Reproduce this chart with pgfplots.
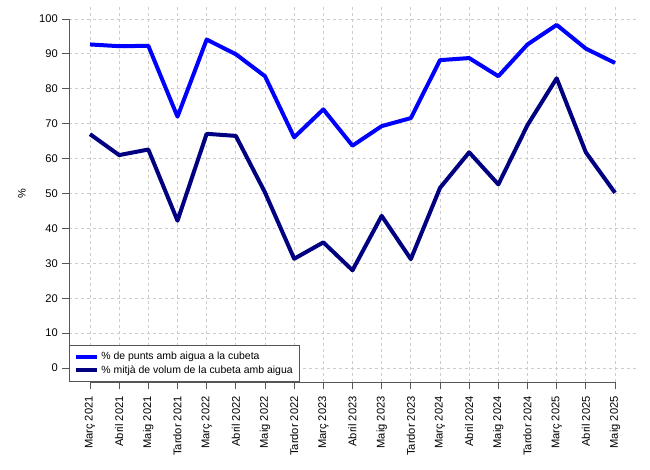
\documentclass[border=0pt]{standalone}
\usepackage{pgfplots}
\pgfplotsset{compat=1.18}
\usepackage{fontspec}
\setmainfont{Liberation Sans}
\definecolor{axisgray}{HTML}{555555}
\definecolor{gridgray}{HTML}{CCCCCC}
\definecolor{navyline}{HTML}{000080}
\definecolor{blueline}{HTML}{0000FF}
\begin{document}
\begin{tikzpicture}
\path[use as bounding box] (0,0) rectangle (650bp,470bp);
\begin{axis}[
  at={(69bp,88bp)}, anchor=south west,
  width=567bp, height=377bp, scale only axis,
  xmin=0.28, xmax=19.72, ymin=-4, ymax=104,
  clip=false,
  axis x line*=bottom, axis y line*=left,
  axis line style={draw=none},
  xtick={1,...,19},
  xticklabels={Març 2021,Abril 2021,Maig 2021,Tardor 2021,Març 2022,Abril 2022,Maig 2022,Tardor 2022,Març 2023,Abril 2023,Maig 2023,Tardor 2023,Març 2024,Abril 2024,Maig 2024,Tardor 2024,Març 2025,Abril 2025,Maig 2025},
  ytick={0,10,...,100},
  /pgf/number format/assume math mode=true,
  tick align=outside,
  major tick length=7bp,
  tick style={color=axisgray, line width=0.8bp},
  xtick pos=bottom, ytick pos=left,
  xticklabel style={rotate=90, anchor=east, inner xsep=7bp, inner ysep=0pt, font=\fontsize{11.2}{13}\selectfont},
  yticklabel style={anchor=east, inner xsep=4bp, inner ysep=0pt, font=\fontsize{11.2}{13}\selectfont},
  grid=major,
  major grid style={color=gridgray, line width=0.8bp, dash pattern=on 3bp off 3bp},
  ylabel={\%},
  ylabel style={at={(axis description cs:-0.083,0.5)}, anchor=center, font=\fontsize{11}{13}\selectfont},
  legend style={at={(0,0)}, anchor=south west, draw=axisgray, line width=0.8bp, fill=white,
    font=\fontsize{10.5}{12}\selectfont, inner xsep=5bp, inner ysep=5bp, row sep=0bp},
  legend cell align=left,
  legend image code/.code={\draw[#1] (0bp,0bp) -- (21bp,0bp);},
]
\draw[axisgray, line width=0.8bp] (axis cs:0.28,0) -- (axis cs:0.28,100);
\draw[axisgray, line width=0.8bp] (axis cs:1,-4) -- (axis cs:19,-4);
\addplot[blueline, line width=4bp, line join=round] coordinates {
(1,92.7) (2,92.2) (3,92.3) (4,72.0) (5,94.1) (6,89.9) (7,83.6) (8,66.1) (9,74.1)
(10,63.7) (11,69.3) (12,71.6) (13,88.2) (14,88.8) (15,83.6) (16,92.7) (17,98.3) (18,91.5) (19,87.4)};
\addlegendentry{\% de punts amb aigua a la cubeta}
\addplot[navyline, line width=4bp, line join=round] coordinates {
(1,67.0) (2,61.0) (3,62.6) (4,42.2) (5,67.1) (6,66.5) (7,50.3) (8,31.3) (9,36.0)
(10,28.0) (11,43.6) (12,31.2) (13,51.6) (14,61.8) (15,52.6) (16,69.6) (17,83.0) (18,61.8) (19,50.2)};
\addlegendentry{\% mitjà de volum de la cubeta amb aigua}
\end{axis}
\end{tikzpicture}
\end{document}
